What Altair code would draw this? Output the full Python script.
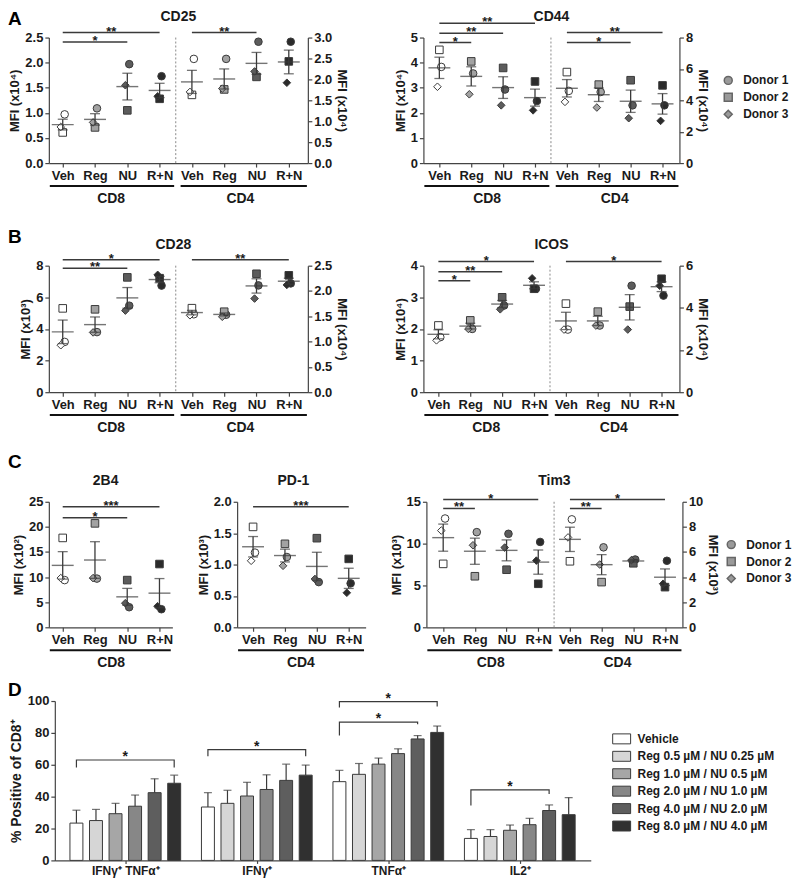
import altair as alt
import pandas as pd

FONT = "Liberation Sans"
INK = "#1a1a1a"
LINE = "#3a3a3a"

# ---------------- categories / labels ----------------
treatments = ["Veh", "Reg", "NU", "R+N"]
donors = ["Donor 1", "Donor 2", "Donor 3"]
donor_shapes = ["circle", "square", "diamond"]
trt_fill = ["#ffffff", "#a2a2a2", "#5c5c5c", "#2b2b2b"]
donor_dx = [0.06, 0.0, -0.06]

# ---------------- panel values (rows: Veh, Reg, NU, R+N ; cols: Donor 1, 2, 3) ----
cd25_cd8 = [[0.97, 0.61, 0.72], [1.09, 0.71, 0.81], [1.97, 1.05, 1.55], [1.73, 1.28, 1.33]]
cd25_cd4 = [[2.49, 1.63, 1.70], [2.49, 1.76, 1.78], [2.90, 2.06, 2.19], [2.90, 2.43, 1.92]]
cd44_cd8 = [[3.83, 4.51, 3.04], [3.57, 4.05, 2.74], [2.93, 3.79, 2.30], [2.47, 3.25, 2.10]]
cd44_cd4 = [[4.60, 5.80, 3.90], [4.53, 5.00, 3.54], [3.68, 5.28, 2.86], [3.68, 4.95, 2.69]]
cd28_cd8 = [[3.18, 5.30, 2.97], [3.80, 5.24, 3.78], [5.47, 7.26, 5.16], [6.74, 7.21, 7.42]]
cd28_cd4 = [[1.54, 1.66, 1.52], [1.53, 1.59, 1.49], [2.11, 2.34, 1.85], [2.15, 2.31, 2.12]]
icos_cd8 = [[1.74, 2.11, 1.64], [2.00, 2.27, 2.00], [2.74, 3.00, 2.62], [3.27, 3.27, 3.60]]
icos_cd4 = [[2.97, 4.20, 2.97], [3.16, 3.82, 3.16], [5.05, 4.06, 2.97], [4.58, 5.38, 5.05]]
b2b4_cd8 = [[9.4, 17.8, 9.8], [9.7, 20.7, 9.8], [4.0, 9.4, 4.8], [3.6, 12.6, 4.2]]
pd1_cd4 = [[1.19, 1.60, 1.06], [1.12, 1.33, 0.98], [0.72, 1.42, 0.77], [0.70, 1.09, 0.55]]
tim3_cd8 = [[13.0, 7.58, 11.56], [11.37, 6.10, 9.80], [11.17, 6.88, 9.53], [10.2, 5.20, 7.97]]
tim3_cd4 = [[8.60, 5.26, 7.16], [6.37, 3.60, 5.00], [5.40, 5.10, 5.35], [5.30, 3.20, 3.47]]

# significance bars: (from category, to category, level on left axis, label)
cd25_sig = [(0, 3, 2.60, "**"), (0, 2, 2.41, "*"), (4, 6, 2.60, "**")]
cd44_sig = [(0, 3, 5.57, "**"), (0, 2, 5.17, "**"), (0, 1, 4.80, "*"), (4, 7, 5.20, "**"), (4, 6, 4.80, "*")]
cd28_sig = [(0, 3, 8.38, "*"), (0, 2, 7.84, "**"), (4, 7, 8.38, "**")]
icos_sig = [(0, 3, 4.13, "*"), (0, 2, 3.81, "**"), (0, 1, 3.52, "*"), (4, 7, 4.13, "*")]
b2b4_sig = [(0, 3, 24.0, "***"), (0, 2, 21.8, "*")]
pd1_sig = [(0, 3, 1.92, "***")]
tim3_sig = [(0, 3, 15.27, "*"), (0, 1, 14.2, "**"), (4, 7, 15.27, "*"), (4, 5, 14.2, "**")]

# ---------------- panel D ----------------
d_groups = ["IFNγ⁺ TNFα⁺", "IFNγ⁺", "TNFα⁺", "IL2⁺"]
dose_labels = ["Vehicle", "Reg 0.5 µM / NU 0.25 µM", "Reg 1.0 µM / NU 0.5 µM",
               "Reg 2.0 µM / NU 1.0 µM", "Reg 4.0 µM / NU 2.0 µM", "Reg 8.0 µM / NU 4.0 µM"]
dose_fill = ["#ffffff", "#d6d6d6", "#a6a6a6", "#878787", "#5e5e5e", "#303030"]
d_values = [[23.4, 25.0, 29.3, 34.0, 42.5, 48.4],
            [33.5, 35.8, 40.4, 44.5, 50.2, 53.5],
            [49.4, 54.0, 60.4, 67.0, 76.2, 80.3],
            [13.8, 15.0, 18.9, 22.4, 31.3, 28.7]]
d_errors = [[8.1, 7.0, 6.5, 7.0, 8.7, 5.1],
            [9.0, 8.2, 8.6, 9.2, 10.2, 6.3],
            [7.1, 6.8, 3.8, 3.0, 2.1, 4.0],
            [5.5, 4.3, 3.3, 4.0, 3.5, 10.7]]
br_group = [0, 1, 2, 2, 3]
br_from = [0, 0, 0, 0, 0]
br_to = [5, 5, 5, 4, 4]
br_level = [63.0, 69.5, 99.6, 86.8, 44.3]
br_left_end = [58.3, 65.4, 96.0, 78.3, 34.5]
br_right_end = [58.3, 65.4, 96.5, 85.4, 41.7]
br_label = ["*", "*", "*", "*", "*"]


def ticks(mx, step):
    n = int(round(mx / step))
    return [round(k * step, 6) for k in range(n + 1)]


def point_frame(vals, start):
    rows = []
    for i, trow in enumerate(vals):
        for j, v in enumerate(trow):
            rows.append({"pos": start + i, "xp": start + i + donor_dx[j],
                         "trt": treatments[i], "donor": donors[j], "value": v})
    return pd.DataFrame(rows)


donor_legend = alt.Legend(orient="none", legendX=300, legendY=37, title=None, padding=0,
                          symbolFillColor="#9a9a9a", symbolStrokeColor="#666666",
                          symbolSize=64, labelFont=FONT, labelFontSize=12,
                          labelFontWeight="bold", labelColor=INK, labelOffset=9,
                          rowPadding=3)


def scatter_panel(title, left_vals, right_vals, dom, w, h, lspec, rspec, sig, legend=False,
                  single_label="CD8", title_dx=0):
    ncat = 4 if right_vals is None else 8
    labs = (treatments * 2)[:ncat]
    expr = "[" + ",".join("'%s'" % t for t in labs) + "][datum.value]"
    xscale = alt.Scale(domain=dom, nice=False, zero=False)
    xaxis = alt.Axis(values=list(range(ncat)), labelExpr=expr, title=None, tickSize=4,
                     labelPadding=2, labelFlush=False, labelOverlap=False)

    def X(f):
        return alt.X(f, type="quantitative", scale=xscale, axis=xaxis)

    def yfactory(spec, orient):
        mx, step, fmt, ttl = spec
        sc = alt.Scale(domain=[0, mx], nice=False, zero=True)
        ax = alt.Axis(values=ticks(mx, step), format=fmt, title=ttl, orient=orient,
                      tickSize=4, labelPadding=2, titlePadding=3)
        return lambda f: alt.Y(f, type="quantitative", scale=sc, axis=ax)

    shape = alt.Shape("donor:N", scale=alt.Scale(domain=donors, range=donor_shapes),
                      legend=donor_legend if legend else None)
    fill = alt.Fill("trt:N", scale=alt.Scale(domain=treatments, range=trt_fill), legend=None)

    def group_layers(vals, start, Y):
        df = point_frame(vals, start)
        pts = alt.Chart(df).mark_point(filled=True, size=58, stroke=LINE, strokeWidth=1,
                                       opacity=1).encode(x=X("xp"), y=Y("value"),
                                                         shape=shape, fill=fill)
        base = alt.Chart(df).transform_aggregate(
            m="mean(value)", se="stderr(value)", groupby=["pos"]
        ).transform_calculate(lo="datum.m - datum.se", hi="datum.m + datum.se")
        err = base.mark_rule(color=LINE, strokeWidth=1.3).encode(x=X("pos"), y=Y("lo"), y2="hi")
        mean = base.mark_tick(orient="horizontal", size=22, thickness=1.4,
                              color=LINE).encode(x=X("pos"), y=Y("m"))
        caps = base.transform_fold(["lo", "hi"], as_=["k", "v"]).mark_tick(
            orient="horizontal", size=10, thickness=1.3, color=LINE
        ).encode(x=X("pos"), y=Y("v"))
        return [pts, err, mean, caps]

    YL = yfactory(lspec, "left")
    left = group_layers(left_vals, 0, YL)

    sdf = pd.DataFrame({"x1": [s[0] for s in sig], "x2": [s[1] for s in sig],
                        "lvl": [s[2] for s in sig], "lab": [s[3] for s in sig]})
    sdf["xm"] = (sdf["x1"] + sdf["x2"]) / 2
    left.append(alt.Chart(sdf).mark_rule(color=LINE, strokeWidth=1.5).encode(
        x=X("x1"), x2="x2", y=YL("lvl")))
    left.append(alt.Chart(sdf).mark_text(font=FONT, fontSize=13, fontWeight="bold",
                                         baseline="alphabetic", dy=3, color=INK).encode(
        x=X("xm"), y=YL("lvl"), text="lab:N"))

    if ncat == 8:
        left.append(alt.Chart(pd.DataFrame({"xd": [3.5]})).mark_rule(
            color="#8a8a8a", strokeDash=[2, 2], strokeWidth=1).encode(x=X("xd")))
        gdf = pd.DataFrame({"a": [dom[0] + 0.03, 3.65], "b": [3.45, dom[1] - 0.03],
                            "mid": [1.5, 5.5], "lab": ["CD8", "CD4"]})
    else:
        gdf = pd.DataFrame({"a": [dom[0] + 0.03], "b": [dom[1] - 0.05],
                            "mid": [1.5], "lab": [single_label]})
    left.append(alt.Chart(gdf).mark_rule(color="#111111", strokeWidth=2).encode(
        x=X("a"), x2="b", y=alt.value(h + 23)))
    left.append(alt.Chart(gdf).mark_text(font=FONT, fontSize=14, fontWeight="bold",
                                         baseline="alphabetic", color=INK).encode(
        x=X("mid"), y=alt.value(h + 40), text="lab:N"))
    left.append(alt.Chart(pd.DataFrame({"t": [title]})).mark_text(
        font=FONT, fontSize=14, fontWeight="bold", baseline="alphabetic", align="center",
        color=INK).encode(x=alt.value(w / 2 + title_dx), y=alt.value(-17), text="t:N"))

    if right_vals is None:
        ch = alt.layer(*left)
    else:
        YR = yfactory(rspec, "right")
        right = group_layers(right_vals, 4, YR)
        ch = alt.layer(alt.layer(*left), alt.layer(*right)).resolve_scale(y="independent")
    return ch.properties(width=w, height=h)


# ---------------- panels A-C ----------------
HA, HB, HC, HD = 126, 127, 126, 160
t4 = "MFI (x10⁴)"
t3 = "MFI (x10³)"
t2 = "MFI (x10²)"

cd25 = scatter_panel("CD25", cd25_cd8, cd25_cd4, [-0.43, 7.59], 260, HA,
                     (2.5, 0.5, ".1f", t4), (3.0, 0.5, ".1f", t4), cd25_sig)
cd44 = scatter_panel("CD44", cd44_cd8, cd44_cd4, [-0.5, 7.53], 257, HA,
                     (5, 1, "d", t4), (8, 2, "d", t4), cd44_sig, legend=True)
cd28 = scatter_panel("CD28", cd28_cd8, cd28_cd4, [-0.43, 7.59], 260, HB,
                     (8, 2, "d", t3), (2.5, 0.5, ".1f", t4), cd28_sig, title_dx=-5)
icos = scatter_panel("ICOS", icos_cd8, icos_cd4, [-0.47, 7.56], 257, HB,
                     (4, 1, "d", t4), (6, 2, "d", t4), icos_sig)
b2b4 = scatter_panel("2B4", b2b4_cd8, None, [-0.43, 3.4], 124, HC,
                     (25, 5, "d", t2), None, b2b4_sig, single_label="CD8", title_dx=-5)
pd1 = scatter_panel("PD-1", pd1_cd4, None, [-0.5, 3.53], 129, HC,
                    (2.0, 0.5, ".1f", t3), None, pd1_sig, single_label="CD4", title_dx=-8)
tim3 = scatter_panel("Tim3", tim3_cd8, tim3_cd4, [-0.53, 7.55], 257, HC,
                     (15, 5, "d", t3), (10, 2, "d", t3), tim3_sig, legend=True)

# ---------------- panel D ----------------
d_dom = [0, 26.9]
g_first, g_step = 3.35, 6.725
rows = []
for g, gname in enumerate(d_groups):
    for i, dl in enumerate(dose_labels):
        rows.append({"pos": g_first + g * g_step + (i - 2.5), "grp": gname, "dose": dl,
                     "val": d_values[g][i], "top": d_values[g][i] + d_errors[g][i]})
ddf = pd.DataFrame(rows)

centers = [g_first + g * g_step for g in range(len(d_groups))]
d_expr = "[" + ",".join("'%s'" % s for s in d_groups) + "][round((datum.value - %s) / %s)]" % (g_first, g_step)
dxs = alt.Scale(domain=d_dom, nice=False, zero=False)
dxa = alt.Axis(values=centers, labelExpr=d_expr, title=None, tickSize=3, labelPadding=2,
               labelFontSize=12, labelFlush=False, labelOverlap=False)
dys = alt.Scale(domain=[0, 100], nice=False)
dya = alt.Axis(values=ticks(100, 20), title="% Positive of CD8⁺", tickSize=4, labelPadding=2,
               titlePadding=4, titleFontSize=14)


def DX(f):
    return alt.X(f, type="quantitative", scale=dxs, axis=dxa)


def DY(f):
    return alt.Y(f, type="quantitative", scale=dys, axis=dya)


d_legend = alt.Legend(orient="none", legendX=563, legendY=32, title=None, padding=0,
                      symbolType="M-1.8,-1H1.8V1H-1.8Z", symbolSize=100,
                      symbolStrokeColor=LINE, symbolStrokeWidth=1, labelFont=FONT,
                      labelFontSize=12, labelFontWeight="bold", labelColor=INK,
                      labelOffset=10, rowPadding=3.5)
bars = alt.Chart(ddf).mark_bar(size=13, stroke=LINE, strokeWidth=1).encode(
    x=DX("pos"), y=DY("val"),
    fill=alt.Fill("dose:N", scale=alt.Scale(domain=dose_labels, range=dose_fill),
                  sort=dose_labels, legend=d_legend))
derr = alt.Chart(ddf).mark_rule(color=LINE, strokeWidth=1.2).encode(x=DX("pos"), y=DY("val"), y2="top")
dcap = alt.Chart(ddf).mark_tick(orient="horizontal", size=8, thickness=1.2, color=LINE).encode(
    x=DX("pos"), y=DY("top"))

brows = []
srows = []
for k in range(len(br_group)):
    xl = g_first + br_group[k] * g_step + (br_from[k] - 2.5)
    xr = g_first + br_group[k] * g_step + (br_to[k] - 2.5)
    for s, (xx, yy) in enumerate([(xl, br_left_end[k]), (xl, br_level[k]),
                                  (xr, br_level[k]), (xr, br_right_end[k])]):
        brows.append({"id": k, "seq": s, "bx": xx, "by": yy})
    srows.append({"sx": (xl + xr) / 2, "sy": br_level[k], "lab": br_label[k]})
brk = alt.Chart(pd.DataFrame(brows)).mark_line(color=LINE, strokeWidth=1.2).encode(
    x=DX("bx"), y=DY("by"), detail="id:N", order="seq:Q")
bst = alt.Chart(pd.DataFrame(srows)).mark_text(font=FONT, fontSize=14, fontWeight="bold",
                                               baseline="alphabetic", dy=1, color=INK).encode(
    x=DX("sx"), y=DY("sy"), text="lab:N")
dchart = alt.layer(bars, derr, dcap, brk, bst).properties(width=538, height=HD)


# ---------------- layout helpers ----------------
def spacer(w, h, letter=None, ly=0):
    if letter:
        c = alt.Chart(pd.DataFrame({"t": [letter]})).mark_text(
            font=FONT, fontSize=19, fontWeight="bold", align="left", baseline="top",
            color="#000000").encode(x=alt.value(0), y=alt.value(ly), text="t:N")
    else:
        c = alt.Chart(pd.DataFrame({"t": [0]})).mark_point(opacity=0, size=1).encode(
            x=alt.value(0.5), y=alt.value(0.5))
    return c.properties(width=w, height=h)


RES = dict(x="independent", y="independent", shape="independent", fill="independent")


def row(*cells):
    return alt.hconcat(*cells, spacing=0, bounds="flush").resolve_scale(**RES).resolve_legend(
        shape="independent", fill="independent")


# plot tops (page): A 36, B 265, C 502, D 702 ; letter cell height = distance to next row top
rowA = row(spacer(41, 191, "A", -28), cd25, spacer(116, 1), cd44)
rowB = row(spacer(41, 188, "B", -38), cd28, spacer(116, 1), icos)
rowC = row(spacer(41, 180, "C", -49), b2b4, spacer(65, 1), pd1, spacer(61, 1), tim3)
rowD = row(spacer(47, HD, "D", -20), dchart)

chart = alt.vconcat(rowA, rowB, rowC, rowD, spacing=0, padding=0).resolve_scale(**RES).resolve_legend(
    shape="independent", fill="independent"
).configure_view(stroke=None).configure_axis(
    grid=False, labelFont=FONT, labelFontSize=13, labelFontWeight="bold", labelColor=INK,
    titleFont=FONT, titleFontSize=13, titleFontWeight="bold", titleColor=INK,
    domainColor="#444444", tickColor="#444444", domainWidth=1.2, tickWidth=1.2
)

chart.save("out.html", embed_options={"renderer": "svg", "actions": False})
